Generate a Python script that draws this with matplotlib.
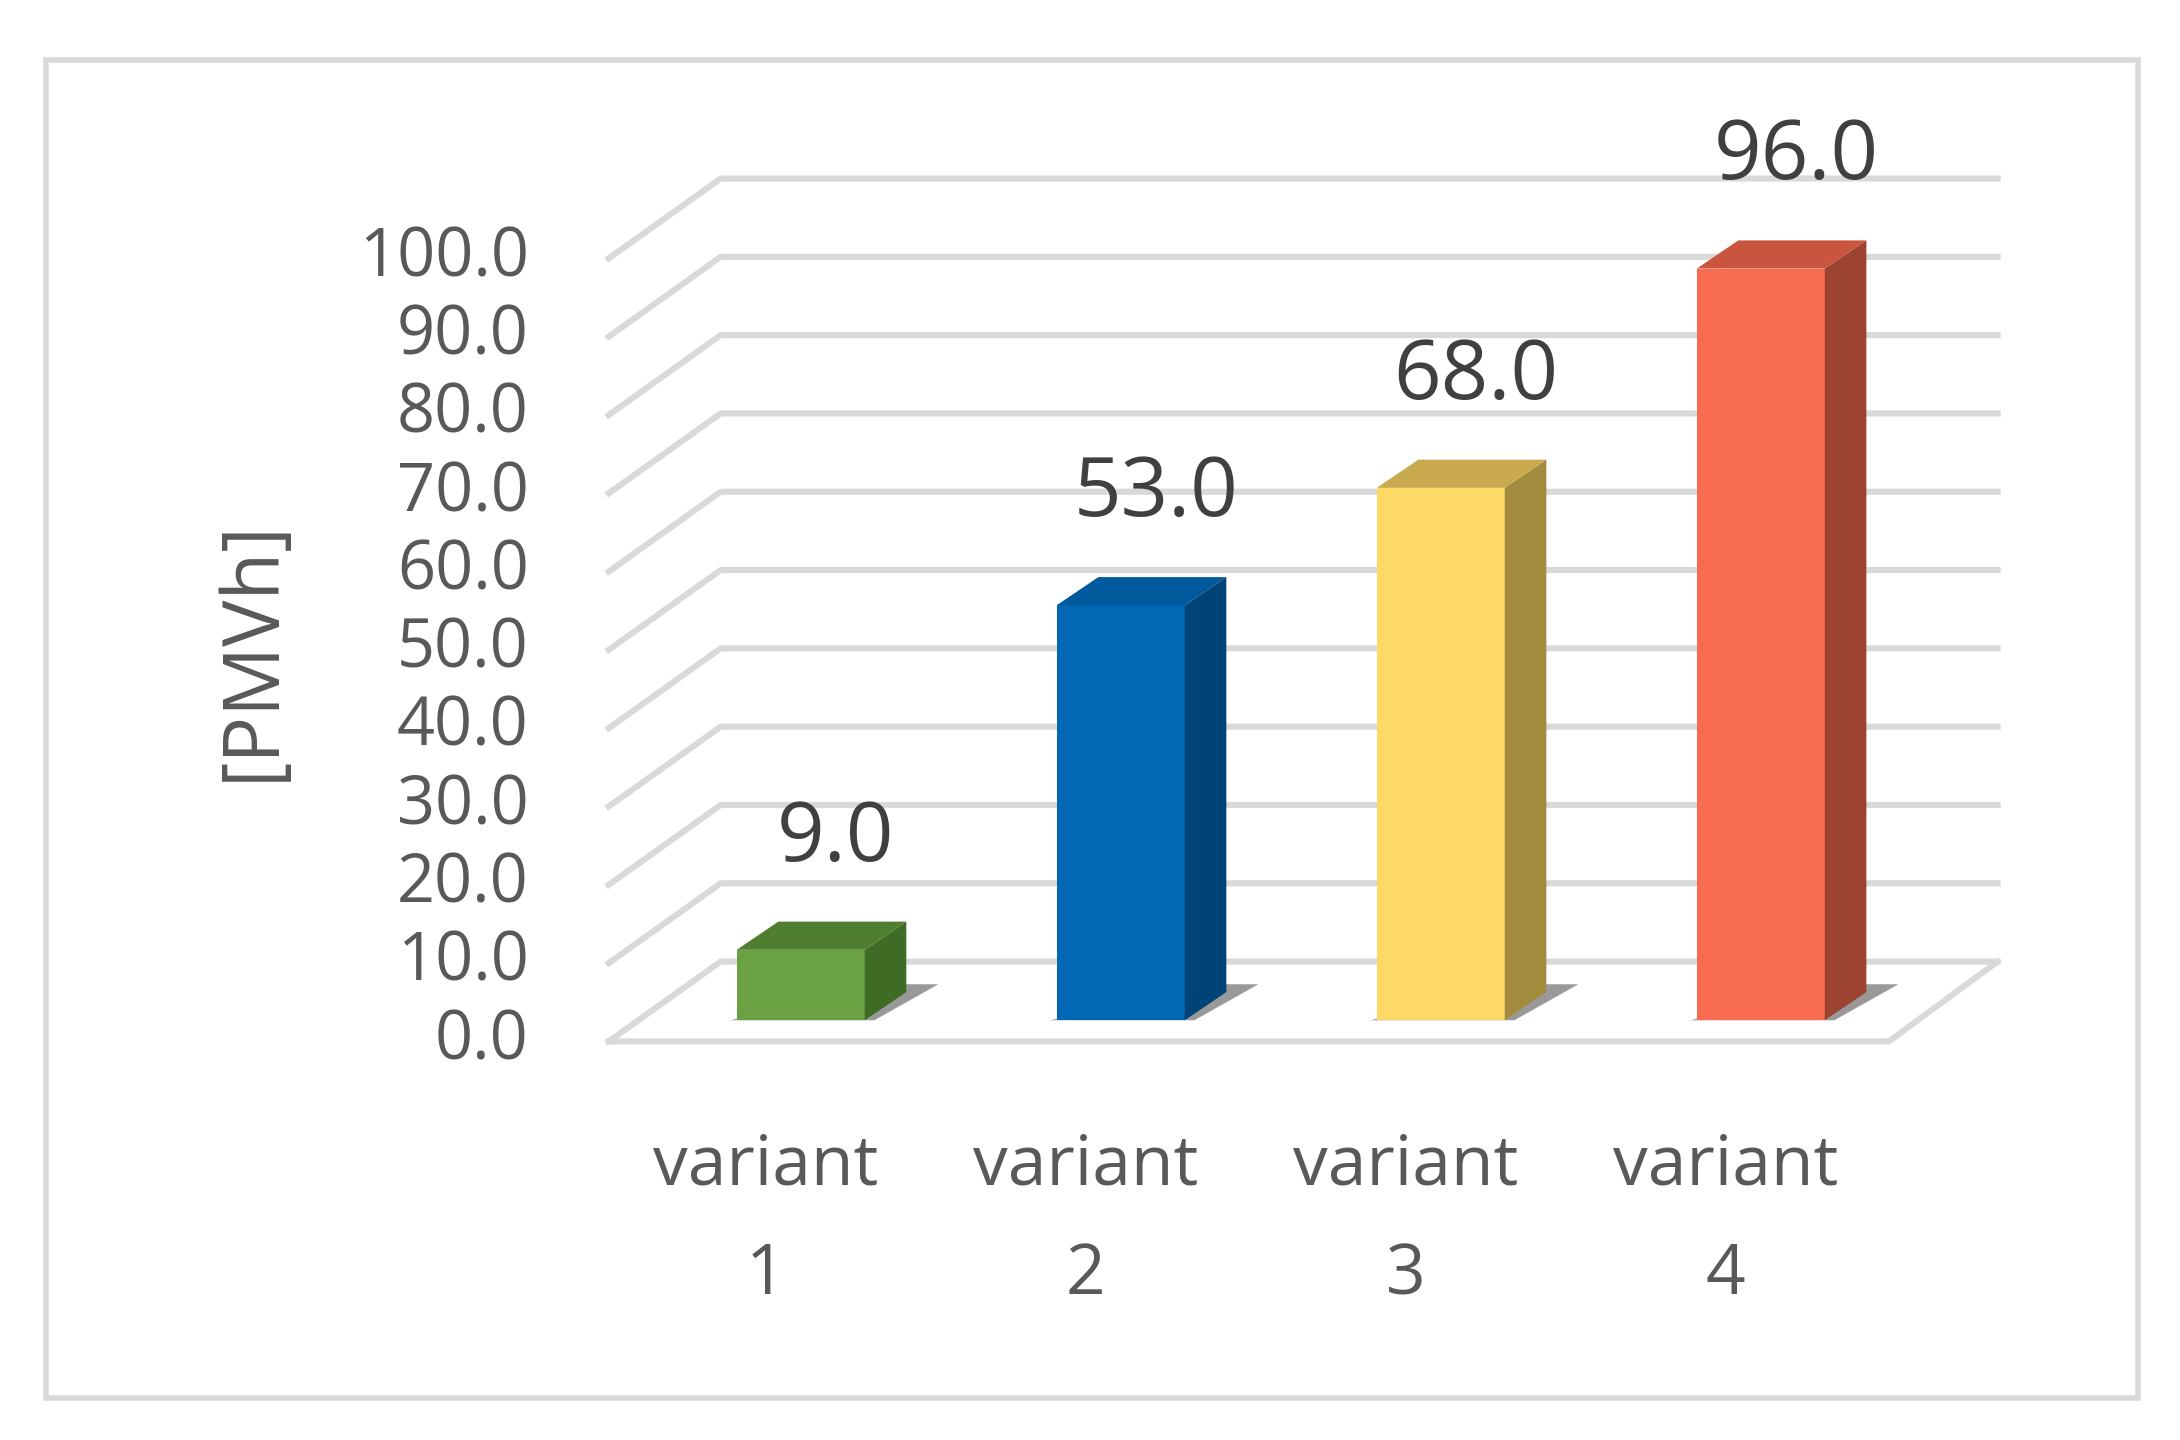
import matplotlib
matplotlib.use("Agg")
import matplotlib.pyplot as plt
from matplotlib.patches import Polygon, Rectangle

categories = ["variant\n1", "variant\n2", "variant\n3", "variant\n4"]
values = [9.0, 53.0, 68.0, 96.0]
ticks = [0, 10, 20, 30, 40, 50, 60, 70, 80, 90, 100]
front = ["#6aa142", "#0068b4", "#fed966", "#f76c50"]
side = ["#3f6c25", "#004376", "#a38b3e", "#9c4431"]
top = ["#4f7e31", "#00599c", "#c9aa4e", "#c9553e"]

fig = plt.figure(figsize=(10.9, 7.2), dpi=200)
ax = fig.add_axes([0, 0, 1, 1])
ax.set_xlim(-2.502, 4.31)
ax.set_ylim(-50.9, 133.0)
ax.axis("off")
plt.rcParams["font.family"] = ["Open Sans", "DejaVu Sans"]

# border
fig.patches.append(Rectangle((33/1560, 1-1000/1030), (1530-33)/1560, (1000-43)/1030,
                             transform=fig.transFigure, fill=False, ec="#d9d9d9", lw=2))

gc = "#d9d9d9"
wx0, wdx, wdy, xr = -0.60, 0.35, 10.2, 3.74
for v in ticks:
    ax.plot([wx0, wx0 + wdx, xr], [v, v + wdy, v + wdy], color=gc, lw=2.2, zorder=1)
# floor front edge
ax.plot([wx0, 3.40, xr], [0, 0, wdy], color=gc, lw=2.2, zorder=1)

bw, ddx, ddy, base = 0.40, 0.13, 3.6, 2.7
for i, (v, f, s, t) in enumerate(zip(values, front, side, top)):
    x0, x1 = i - bw/2, i + bw/2
    y0, y1 = base, base + v
    # shadow
    ax.add_patch(Polygon([(x0 - 0.02, y0), (x1 + 0.03, y0), (x1 + ddx + 0.1, y0 + ddy + 1),
                          (x1 + 0.05, y0 + ddy + 1)], closed=True, fc="#555555", ec="none",
                         alpha=0.6, zorder=2))
    ax.add_patch(Polygon([(x0, y0), (x1, y0), (x1, y1), (x0, y1)], fc=f, ec="none", zorder=3))
    ax.add_patch(Polygon([(x1, y0), (x1 + ddx, y0 + ddy), (x1 + ddx, y1 + ddy), (x1, y1)],
                         fc=s, ec="none", zorder=3))
    ax.add_patch(Polygon([(x0, y1), (x1, y1), (x1 + ddx, y1 + ddy), (x0 + ddx, y1 + ddy)],
                         fc=t, ec="none", zorder=3))
    ax.text(i + 0.11, y1 + ddy + 10.5, f"{v:.1f}", ha="center", va="center",
            fontsize=30, color="#404040", zorder=4)
    l1, l2 = categories[i].split("\n")
    ax.text(i - 0.11, -16, l1, ha="center", va="center", fontsize=25, color="#595959")
    ax.text(i - 0.11, -30, l2, ha="center", va="center", fontsize=25, color="#595959")

for v in ticks:
    ax.text(-0.85, v, f"{v:.1f}", ha="right", va="center", fontsize=24, color="#595959")

ax.text(-1.71, 50, "[PMVh]", rotation=90, ha="center", va="center", fontsize=28, color="#595959")

fig.savefig("out.png", dpi=200)
